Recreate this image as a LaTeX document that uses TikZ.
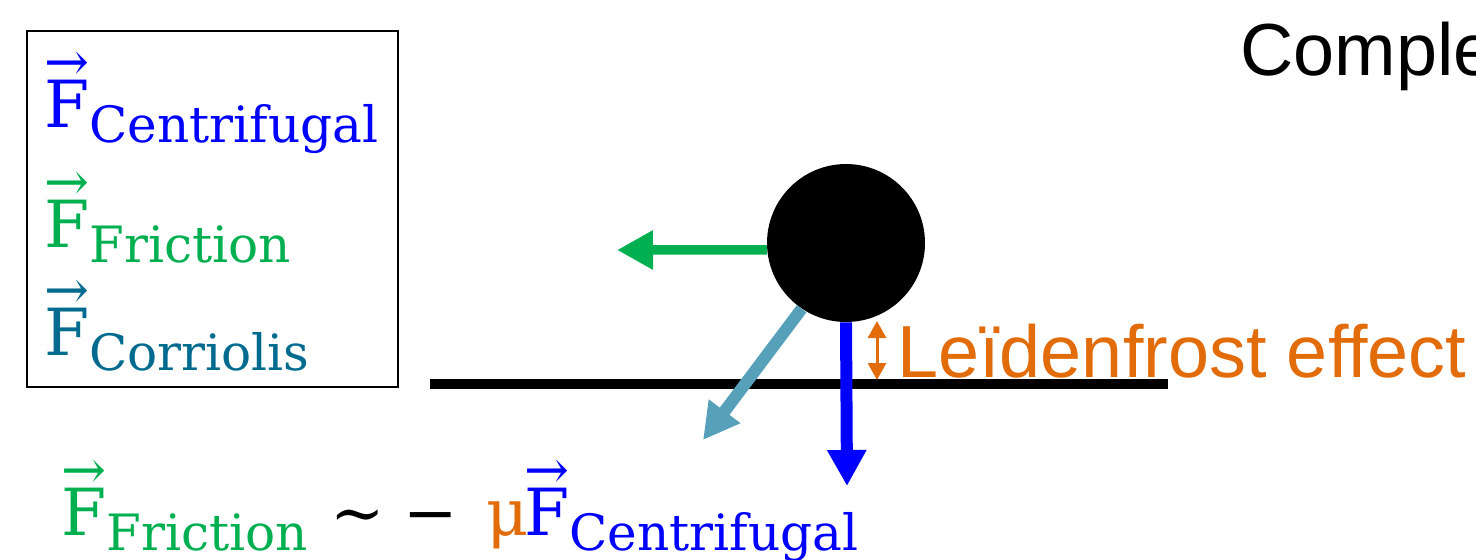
\documentclass[tikz,border=0pt]{standalone}
\usepackage{fontspec}
\setmainfont{DejaVu Serif}
\newfontfamily\arialfont{Liberation Sans}
\usetikzlibrary{arrows.meta}
\definecolor{forceCentri}{HTML}{0000FF}
\definecolor{forceFric}{HTML}{00B050}
\definecolor{forceCorr}{HTML}{006B8F}
\definecolor{arrowCorr}{HTML}{56A0BA}
\definecolor{leidenOrange}{HTML}{E26B0A}

% vector F with a thin arrow as wide as the letter
\newcommand{\fvec}{{\fontsize{37}{44}\selectfont\setbox0\hbox{F}%
  \rlap{\raisebox{\dimexpr\ht0-0.5pt}{\resizebox{\wd0}{!}{→}}}\box0}}
\newcommand{\fsub}[1]{\raisebox{-9pt}{\fontsize{28.5}{34}\selectfont #1}}

\begin{document}
\begin{tikzpicture}[x=0.02cm, y=-0.02cm,
    force/.style={line width=0.24cm, -{Triangle[length=0.72cm, width=0.74cm]}},
    label/.style={anchor=base west, inner sep=0pt},
    bigsans/.style={label, font={\arialfont\fontsize{42}{50}\selectfont}},
    bigserif/.style={label, font={\fontsize{37}{44}\selectfont}}]
  \useasboundingbox (0,0) rectangle (1476,559);
  \clip (0,0) rectangle (1476,559);

  % legend
  \draw[line width=0.6pt] (27,31) rectangle (398,387);
  \node[label, text=forceCentri] (legCentri) at (44,127) {\fvec\fsub{Centrifugal}};
  \node[label, text=forceFric] (legFric) at (44,247) {\fvec\fsub{Friction}};
  \node[label, text=forceCorr] (legCorr) at (44,355) {\fvec\fsub{Corriolis}};

  % ground and ball
  \coordinate (groundL) at (430,384);
  \coordinate (groundR) at (1168,384);
  \draw[line width=0.2cm] (groundL) -- (groundR);
  \node[circle, fill=black, minimum size=3.16cm, inner sep=0pt] (ball) at (846,243) {};

  % forces
  \coordinate (fricTip) at (617,250);
  \coordinate (corrTip) at (703,440);
  \coordinate (centriTip) at (847,486);
  \draw[force, forceFric, line width=0.19cm] (ball.185) -- (fricTip);
  \draw[force, arrowCorr] (ball.236) -- (corrTip);
  \draw[force, forceCentri] (ball.south) -- (centriTip);

  % Leidenfrost gap
  \coordinate (gapTop) at (877,321);
  \coordinate (gapBot) at (877,380);
  \draw[leidenOrange, line width=0.06cm,
    {Triangle[length=0.34cm, width=0.36cm]}-{Triangle[length=0.34cm, width=0.36cm]}]
    (gapTop) -- (gapBot);
  \node[bigsans, text=leidenOrange] (leiden) at (897,377) {Leïdenfrost effect};
  \node[bigsans] (title) at (1240,75) {Comple};

  % friction law
  \node[label, text=forceFric] (lawFric) at (61,535) {\fvec\fsub{Friction}};
  \node[bigserif] (lawSim) at (330,535) {∼};
  \node[bigserif] (lawMinus) at (403,535) {−};
  \node[bigserif, text=leidenOrange] (lawMu) at (486,535) {μ};
  \node[label, text=forceCentri] (lawCentri) at (524,535) {\fvec\fsub{Centrifugal}};
\end{tikzpicture}
\end{document}
